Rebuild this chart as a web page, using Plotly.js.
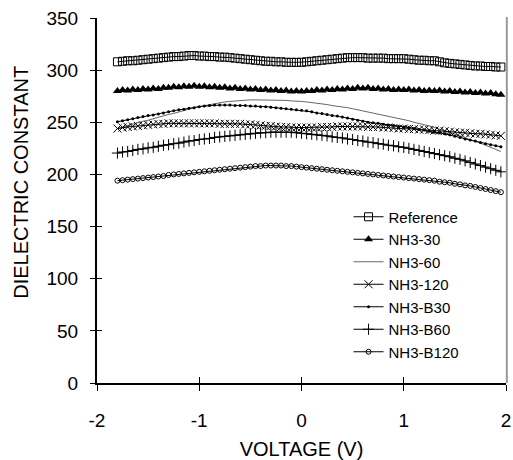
<!DOCTYPE html>
<html>
<head>
<meta charset="utf-8">
<script src="https://cdn.plot.ly/plotly-3.0.1.min.js"></script>
<style>html,body{margin:0;padding:0;background:#fff;}#chart{width:513px;height:460px;}</style>
</head>
<body>
<div id="chart"></div>
<script>
var voltage = [-1.80,-1.75,-1.70,-1.65,-1.60,-1.55,-1.50,-1.45,-1.40,-1.35,
  -1.30,-1.25,-1.20,-1.15,-1.10,-1.05,-1.00,-0.95,-0.90,-0.85,
  -0.80,-0.75,-0.70,-0.65,-0.60,-0.55,-0.50,-0.45,-0.40,-0.35,
  -0.30,-0.25,-0.20,-0.15,-0.10,-0.05,0.00,0.05,0.10,0.15,
  0.20,0.25,0.30,0.35,0.40,0.45,0.50,0.55,0.60,0.65,
  0.70,0.75,0.80,0.85,0.90,0.95,1.00,1.05,1.10,1.15,
  1.20,1.25,1.30,1.35,1.40,1.45,1.50,1.55,1.60,1.65,
  1.70,1.75,1.80,1.85,1.90,1.95];

var reference = [308,308.5,309,309,309.5,310,310.5,311,311.5,312,
  312.5,313,313,313.5,314,314,313.5,313.5,313,313,
  312.5,312.5,312,311.5,311,310.5,310,309.5,309,308.5,
  308.5,308,308,307.5,307.5,307.5,307.5,308,308.5,309,
  309.5,310,310.5,311,311.5,312,312,312,312,311.5,
  311.5,311.5,311.5,311,311,311,311,310.5,310,309.5,
  309.5,309,309,308,307,306.5,306,305.5,305,304.5,
  304,304,303.5,303.5,303,303];

var nh3_30 = [280,281,280.5,281.5,281,282,281.5,282.5,282,283,
  283,284,283.5,284.5,284,285,284,284.5,283.5,284,
  283,283.5,282.5,283,282,282.5,281.5,282,281,281.5,
  280.5,281,280,280.5,279.5,280,279.5,280,280,281,
  280.5,281.5,281,282,281.5,282.5,282,283,282.5,283,
  282,282.5,281.5,282,281,281.5,281,281.5,280.5,281,
  280,280.5,280,280.5,279.5,280,279,279.5,278.5,279,
  278,278.5,277.5,278,277,276.5];

var nh3_60 = [244,245.5,247,248.5,250,251,252,253.5,255,256,
  257.5,258.5,260,261.5,262.5,264,265,266,267,268,
  269,269.5,270,270.5,271,271.5,271.5,271.5,271.5,271.5,
  271.5,271,271,271,270.5,270.5,270,269.5,269,268,
  267.5,267,266,265.5,264.5,264,263,262,261,260,
  259,258,257,256,255,254,252.5,251.5,250,249,
  247.5,246.5,245,243.5,242,240,238.5,237,235,233.5,
  231.5,230,228,226,224,222];

var nh3_120 = [244,245,245.5,246,246.5,247,247.5,248,248.5,248.5,
  249,249,249,249,249,249,249,249,249,249,
  248.5,248.5,248.5,248.5,248.5,248,248,247.5,247,246.5,
  246.5,246,245.5,245.5,245,245,245,245,245,245,
  245.5,245.5,245.5,246,246,246,246,246,246,245.5,
  245.5,245.5,245,245,244.5,244,244,243.5,243.5,243,
  243,242.5,242,242,241.5,241,240.5,240,240,239.5,
  239,239,238.5,238,237.5,237];

var nh3_b30 = [250.5,251.5,252.5,253.5,254.5,255.5,256.5,257,258,259,
  260,261,262,262.5,263.5,264,265,265.5,266,266.5,
  266.5,266.5,266.5,266,266,266,265.5,265.5,265,265,
  264.5,264,263.5,263,262.5,262,261.5,261,260,259,
  258.5,257.5,256.5,256,255,254,253,252,251,250,
  249.5,249,248,247.5,247,246,245.5,245,244,243,
  242.5,241.5,240.5,240,239,238,236.5,235.5,234,233,
  232,230.5,229.5,228.5,227.5,226.5];

var nh3_b60 = [220.5,221.5,222,223,224,224.5,225.5,226,227,228,
  228.5,229.5,230,231,232,232.5,233.5,234,234.5,235.5,
  236,236.5,237,237.5,238,238.5,239,239.5,240,240,
  240.5,240.5,240.5,240.5,240.5,240,239.5,239,238.5,238,
  237.5,237,236,235.5,235,234,233.5,232.5,232,231,
  230.5,229.5,229,228,227.5,226.5,226,225,224,223,
  222,221,220,219,218,217,215.5,214.5,213,211.5,
  210,208.5,207,205.5,204,202.5];

var nh3_b120 = [194,194.5,195,195.5,196,196.5,197,197.5,198,198.5,
  199.5,200,200.5,201,201.5,202,202.5,203,203.5,204,
  204.5,205,205.5,206,206.5,207,207.5,208,208,208.5,
  208.5,208.5,208.5,208,208,207.5,207,206.5,206,205.5,
  205,204.5,204,203.5,203,202.5,202,201.5,201,200.5,
  200,199.5,199,198.5,198,197.5,197,196.5,196,195.5,
  195,194.5,194,193,192.5,192,191,190.5,189.5,189,
  188,187,186,185,184,183];

var seriesNames = ["Reference","NH3-30","NH3-60","NH3-120","NH3-B30","NH3-B60","NH3-B120"];
var xTicks = [-2,-1,0,1,2];
var yTicks = [0,50,100,150,200,250,300,350];

var FONT = "Liberation Sans, Arial, sans-serif";
function tr(y, name, marker, line) {
  var t = {x: voltage, y: y, name: name, type: "scatter",
    mode: marker ? "lines+markers" : "lines",
    line: line || {color: "#000", width: 1}, cliponaxis: false};
  if (marker) t.marker = marker;
  return t;
}
var data = [
  tr(reference, seriesNames[0], {symbol: "square-open", size: 8, color: "#000", line: {width: 1, color: "#000"}}),
  tr(nh3_30, seriesNames[1], {symbol: "triangle-up", size: 8, color: "#000"}),
  tr(nh3_60, seriesNames[2], null, {color: "#666", width: 1}),
  tr(nh3_120, seriesNames[3], {symbol: "x-thin-open", size: 8, color: "#000", line: {width: 1, color: "#000"}}),
  tr(nh3_b30, seriesNames[4], {symbol: "circle", size: 3, color: "#000"}),
  tr(nh3_b60, seriesNames[5], {symbol: "cross-thin-open", size: 8, color: "#000", line: {width: 1, color: "#000"}}),
  tr(nh3_b120, seriesNames[6], {symbol: "circle-open", size: 5, color: "#000", line: {width: 1, color: "#000"}})
];
data.push({x: [null], y: [null], xaxis: "x2", yaxis: "y2", showlegend: false, hoverinfo: "skip", type: "scatter", mode: "lines"});

var axFont = {family: FONT, size: 19, color: "#000"};
var layout = {
  width: 513, height: 460,
  margin: {l: 97, r: 7, t: 18, b: 77},
  paper_bgcolor: "#fff", plot_bgcolor: "#fff",
  font: {family: FONT, color: "#000"},
  showlegend: true,
  legend: {x: 0.615, y: 0.50, xanchor: "left", yanchor: "top", bgcolor: "rgba(0,0,0,0)",
    font: {family: FONT, size: 15, color: "#000"}, tracegroupgap: 0},
  xaxis: {range: [-2, 2], tickvals: xTicks, ticktext: xTicks.map(String), ticks: "outside", ticklen: 6, tickwidth: 1, tickcolor: "#000",
    showline: true, linecolor: "#000", linewidth: 2, showgrid: false, zeroline: false,
    tickfont: axFont, ticklabelstandoff: 13,
    title: {text: "VOLTAGE (V)", font: {family: FONT, size: 20, color: "#000"}, standoff: 18}},
  yaxis: {range: [0, 350], tickvals: yTicks, ticktext: yTicks.map(String), ticks: "outside", ticklen: 5, tickwidth: 1, tickcolor: "#000",
    showline: true, linecolor: "#000", linewidth: 2, showgrid: false, zeroline: false,
    tickfont: axFont, ticklabelstandoff: 8},
  xaxis2: {overlaying: "x", range: [-2, 2], tickvals: xTicks, ticks: "inside", ticklen: 6, tickwidth: 1, tickcolor: "#000",
    showticklabels: false, showgrid: false, zeroline: false, showline: false, side: "bottom"},
  yaxis2: {overlaying: "y", range: [0, 350], tickvals: yTicks, ticks: "inside", ticklen: 5, tickwidth: 1, tickcolor: "#000",
    showticklabels: false, showgrid: false, zeroline: false, showline: false, side: "left"},
  shapes: [{type: "line", xref: "paper", yref: "paper", x0: 1.002, x1: 1.002, y0: 0, y1: 1.003,
    line: {color: "#999", width: 2}}],
  annotations: [{text: "DIELECTRIC CONSTANT", textangle: -90, xref: "paper", yref: "paper",
    x: -0.186, y: 0.551, xanchor: "center", yanchor: "middle", showarrow: false,
    font: {family: FONT, size: 20, color: "#000"}}]
};
Plotly.newPlot("chart", data, layout, {displayModeBar: false, staticPlot: true});
</script>
</body>
</html>
